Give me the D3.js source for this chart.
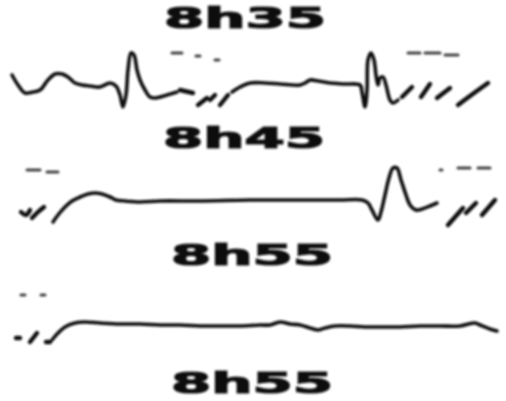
<!DOCTYPE html>
<html><head><meta charset="utf-8">
<script src="https://cdn.jsdelivr.net/npm/d3@7"></script>
<style>html,body{margin:0;padding:0;background:#fff;overflow:hidden}</style>
</head><body>
<svg id="c" width="506" height="401"></svg>
<script>
// ---- DATA (time in s, amplitude in mV) ----
const labels = ["8h35", "8h45", "8h55", "8h55"];

// Trace 1 (8h35): each inner array is one drawn stroke [t, v]
const trace1 = [
  [[0.12,0.4],[0.18,-0.1],[0.25,-0.5],[0.33,-0.45],[0.40,-0.35],[0.48,0.15],[0.55,0.45],[0.62,0.45],[0.68,0.3],[0.75,0],[0.82,-0.1],[0.90,-0.15],[1.00,-0.2],[1.10,0],[1.16,-0.15],[1.20,-0.6],[1.23,-1.2],[1.26,-0.6],[1.28,0.65],[1.31,1.5],[1.34,1.4],[1.37,0.65],[1.40,0.15],[1.45,-0.35],[1.50,-0.7],[1.55,-0.75],[1.67,-0.6],[1.77,-0.45]],
  [[1.80,-0.35],[1.93,-0.5]],
  [[1.98,-1.1],[2.07,-0.75]],
  [[2.10,-0.85],[2.15,-0.6]],
  [[2.20,-1.1],[2.28,-0.6]],
  [[2.32,-0.45],[2.40,-0.2],[2.50,0],[2.65,0],[2.80,-0.05],[3.00,-0.1],[3.05,0],[3.10,0.15],[3.18,0.1],[3.30,0],[3.45,-0.05],[3.60,-0.1],[3.62,-0.45],[3.65,-1.2],[3.67,-0.35],[3.68,1.15],[3.71,1.5],[3.74,1.15],[3.76,0.4],[3.78,-0.1],[3.80,0.25],[3.83,0.3],[3.86,-0.1],[3.90,-0.85],[3.93,-1.0],[3.98,-0.85]],
  [[4.02,-0.7],[4.12,-0.2]],
  [[4.21,-0.7],[4.30,-0.05]],
  [[4.37,-0.75],[4.50,-0.25]],
  [[4.58,-1.1],[4.70,-0.65],[4.88,0]]
];
const marks1 = [[[1.72,1.5],[1.82,1.5]],[[1.96,1.35],[2.00,1.35]],[[2.15,1.15],[2.19,1.15]],[[4.08,1.5],[4.20,1.5]],[[4.25,1.5],[4.40,1.5]],[[4.45,1.4],[4.58,1.4]]];

// Trace 2 (8h45)
const trace2 = [
  [[0.21,-0.6],[0.26,-0.75],[0.30,-0.5]],
  [[0.32,-0.9],[0.38,-0.6],[0.44,-0.35]],
  [[0.53,-1.1],[0.58,-0.75],[0.65,-0.35],[0.72,-0.05],[0.80,0.15],[0.88,0.3],[0.95,0.35],[1.02,0.3],[1.10,0.15],[1.16,0],[1.25,-0.05],[1.40,-0.1],[1.60,-0.05],[2.00,-0.05],[2.50,0],[3.00,0],[3.40,0],[3.62,0],[3.68,-0.15],[3.72,-0.5],[3.78,-1.0],[3.81,-0.6],[3.85,0.25],[3.89,1.1],[3.93,1.6],[3.97,1.6],[4.01,1.0],[4.06,0.25],[4.10,-0.25],[4.16,-0.5],[4.22,-0.45],[4.30,-0.3],[4.37,-0.15]],
  [[4.48,-1.25],[4.63,-0.4]],
  [[4.66,-0.65],[4.76,-0.15]],
  [[4.82,-0.75],[4.95,0]]
];
const marks2 = [[[0.27,1.5],[0.40,1.5]],[[0.47,1.4],[0.58,1.4]],[[4.40,1.5],[4.42,1.5]],[[4.58,1.6],[4.70,1.6]],[[4.78,1.6],[4.90,1.6]]];

// Trace 3 (8h55)
const trace3 = [
  [[0.16,-0.6],[0.20,-0.6]],
  [[0.30,-0.8],[0.37,-0.35]],
  [[0.46,-0.8],[0.50,-0.8]],
  [[0.52,-0.7],[0.58,-0.35],[0.65,-0.05],[0.75,0.15],[0.85,0.2],[1.00,0.15],[1.20,0.1],[1.40,0.1],[1.60,0.05],[1.80,0.05],[2.00,0],[2.20,0],[2.40,0],[2.60,0.05],[2.70,0.05],[2.80,0.2],[2.90,0.1],[3.00,0.05],[3.10,-0.1],[3.18,-0.2],[3.25,-0.1],[3.35,0],[3.50,0],[3.65,-0.05],[3.80,-0.05],[4.00,-0.05],[4.20,0],[4.40,0],[4.60,0],[4.75,0.15],[4.80,0.05],[4.90,-0.15],[4.97,-0.25]]
];
const marks3 = [[[0.21,1.55],[0.25,1.55]],[[0.41,1.55],[0.45,1.55]]];

// ---- DRAW ----
const svg = d3.select("#c");
const defs = svg.append("defs");
defs.append("filter").attr("id","blur").attr("x","-5%").attr("y","-5%").attr("width","110%").attr("height","110%")
  .append("feGaussianBlur").attr("stdDeviation", 1.1);
const g = svg.append("g").attr("filter","url(#blur)");

const x = d3.scaleLinear().domain([0, 5]).range([0, 500]);
const panels = [
  {trace: trace1, marks: marks1, base: 83},
  {trace: trace2, marks: marks2, base: 200},
  {trace: trace3, marks: marks3, base: 326}
];
panels.forEach(p => {
  const y = d3.scaleLinear().domain([-2, 2]).range([p.base + 40, p.base - 40]);
  const line = d3.line().x(d => x(d[0])).y(d => y(d[1])).curve(d3.curveCatmullRom.alpha(0.5));
  g.append("g").selectAll("path").data(p.trace).join("path")
    .attr("d", line).attr("fill","none").attr("stroke","#111")
    .attr("stroke-width", (d) => d.length > 3 ? 3.6 : 4.4)
    .attr("stroke-linecap","round").attr("stroke-linejoin","round");
  g.append("g").selectAll("path").data(p.marks).join("path")
    .attr("d", d3.line().x(d => x(d[0])).y(d => y(d[1])))
    .attr("fill","none").attr("stroke","#444")
    .attr("stroke-width", 3).attr("stroke-linecap","round");
});

const labelPos = [{cx:245, by:28},{cx:244, by:148},{cx:252, by:265},{cx:252, by:393}];
g.append("g").selectAll("text").data(labels).join("text")
  .attr("x", (d,i) => labelPos[i].cx).attr("y", (d,i) => labelPos[i].by)
  .attr("text-anchor","middle")
  .attr("font-family","DejaVu Sans, sans-serif").attr("font-weight","bold")
  .attr("font-size", 28).attr("textLength", 162).attr("lengthAdjust","spacingAndGlyphs")
  .attr("fill","#111").attr("stroke","#111").attr("stroke-width",1.2)
  .text(d => d);
</script>
</body></html>
